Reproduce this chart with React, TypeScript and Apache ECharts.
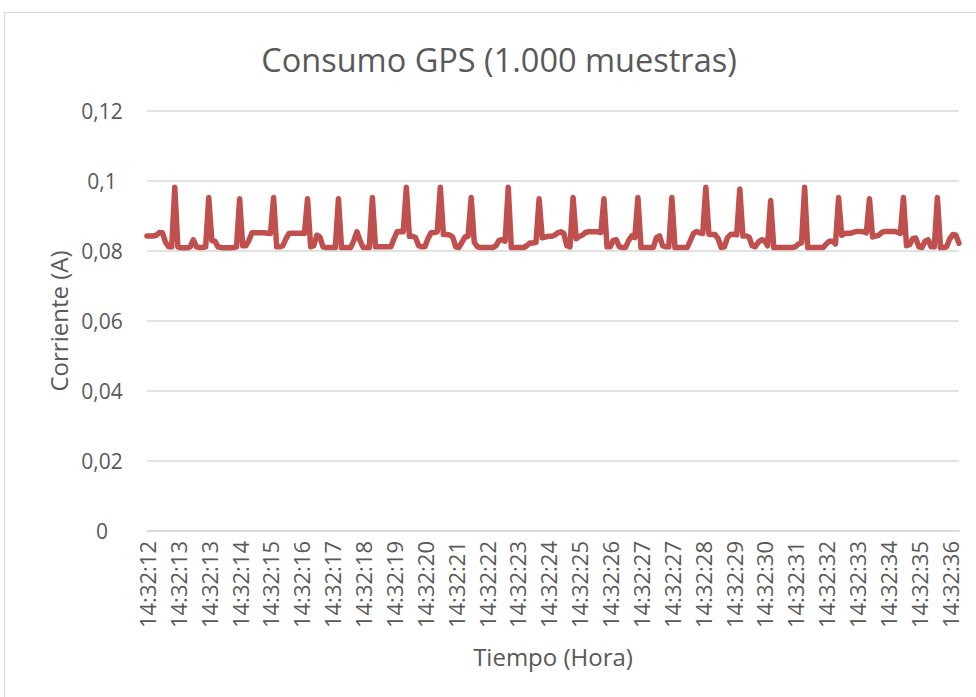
import React, { useEffect, useRef } from "react";
import * as echarts from "echarts";

const chartTitle = "Consumo GPS (1.000 muestras)";
const yAxisTitle = "Corriente (A)";
const xAxisTitle = "Tiempo (Hora)";

// tick labels shown every 10 samples on the category axis
const tickLabels = [
  "14:32:12", "14:32:13", "14:32:13", "14:32:14", "14:32:15", "14:32:16",
  "14:32:17", "14:32:18", "14:32:19", "14:32:20", "14:32:21", "14:32:22",
  "14:32:23", "14:32:24", "14:32:25", "14:32:26", "14:32:27", "14:32:27",
  "14:32:28", "14:32:29", "14:32:30", "14:32:31", "14:32:32", "14:32:33",
  "14:32:34", "14:32:35", "14:32:36",
];
const samplesPerTick = 10;

const yTicks = [0, 0.02, 0.04, 0.06, 0.08, 0.1, 0.12];

// current (A) (reduced resolution)
const corriente = [
  0.0843, 0.0843, 0.0843, 0.0845, 0.0853, 0.0852, 0.0825, 0.0812, 0.0812, 0.0982,
  0.0812, 0.0809, 0.0809, 0.0809, 0.0812, 0.0832, 0.0812, 0.0810, 0.0810, 0.0812,
  0.0953, 0.0830, 0.0828, 0.0812, 0.0810, 0.0809, 0.0809, 0.0809, 0.0810, 0.0812,
  0.0949, 0.0815, 0.0815, 0.0830, 0.0852, 0.0852, 0.0852, 0.0852, 0.0852, 0.0851,
  0.0850, 0.0953, 0.0812, 0.0812, 0.0815, 0.0835, 0.0850, 0.0851, 0.0851, 0.0851,
  0.0851, 0.0850, 0.0949, 0.0812, 0.0815, 0.0845, 0.0840, 0.0812, 0.0810, 0.0810,
  0.0810, 0.0810, 0.0949, 0.0810, 0.0810, 0.0810, 0.0810, 0.0830, 0.0855, 0.0830,
  0.0810, 0.0810, 0.0810, 0.0953, 0.0812, 0.0812, 0.0812, 0.0812, 0.0812, 0.0812,
  0.0835, 0.0855, 0.0856, 0.0855, 0.0982, 0.0842, 0.0842, 0.0838, 0.0815, 0.0812,
  0.0812, 0.0835, 0.0852, 0.0853, 0.0855, 0.0982, 0.0847, 0.0847, 0.0846, 0.0840,
  0.0812, 0.0810, 0.0825, 0.0840, 0.0842, 0.0953, 0.0825, 0.0812, 0.0810, 0.0810,
  0.0810, 0.0810, 0.0810, 0.0815, 0.0830, 0.0832, 0.0828, 0.0982, 0.0810, 0.0810,
  0.0810, 0.0810, 0.0810, 0.0815, 0.0823, 0.0823, 0.0825, 0.0949, 0.0838, 0.0840,
  0.0842, 0.0842, 0.0845, 0.0852, 0.0855, 0.0850, 0.0815, 0.0812, 0.0953, 0.0835,
  0.0842, 0.0845, 0.0853, 0.0855, 0.0855, 0.0855, 0.0855, 0.0853, 0.0949, 0.0812,
  0.0812, 0.0830, 0.0832, 0.0812, 0.0810, 0.0810, 0.0830, 0.0843, 0.0838, 0.0953,
  0.0810, 0.0810, 0.0810, 0.0810, 0.0810, 0.0838, 0.0843, 0.0815, 0.0812, 0.0812,
  0.0953, 0.0810, 0.0810, 0.0810, 0.0810, 0.0810, 0.0830, 0.0850, 0.0856, 0.0852,
  0.0850, 0.0982, 0.0848, 0.0847, 0.0847, 0.0835, 0.0810, 0.0812, 0.0838, 0.0847,
  0.0848, 0.0846, 0.0977, 0.0843, 0.0843, 0.0840, 0.0815, 0.0812, 0.0825, 0.0832,
  0.0830, 0.0815, 0.0944, 0.0810, 0.0810, 0.0810, 0.0810, 0.0810, 0.0810, 0.0810,
  0.0812, 0.0820, 0.0823, 0.0982, 0.0810, 0.0810, 0.0810, 0.0810, 0.0810, 0.0810,
  0.0820, 0.0828, 0.0828, 0.0820, 0.0953, 0.0845, 0.0850, 0.0851, 0.0851, 0.0854,
  0.0856, 0.0856, 0.0855, 0.0852, 0.0949, 0.0840, 0.0843, 0.0845, 0.0853, 0.0856,
  0.0856, 0.0856, 0.0856, 0.0854, 0.0850, 0.0953, 0.0815, 0.0818, 0.0835, 0.0837,
  0.0812, 0.0810, 0.0828, 0.0832, 0.0812, 0.0812, 0.0953, 0.0810, 0.0810, 0.0812,
  0.0835, 0.0847, 0.0845, 0.0822,
];

const categories = corriente.map(
  (_, i) => tickLabels[Math.min(tickLabels.length - 1, Math.floor(i / samplesPerTick))]
);

const FONT = "'Open Sans', sans-serif";
const TEXT = "#595959";

export default function App() {
  const ref = useRef<HTMLDivElement>(null);
  useEffect(() => {
    if (!ref.current) return;
    const chart = echarts.init(ref.current, undefined, { renderer: "svg" });
    chart.setOption({
      animation: false,
      backgroundColor: "#ffffff",
      textStyle: { fontFamily: FONT },
      graphic: [
        {
          type: "rect",
          shape: { x: 4.5, y: 12.5, width: 1200, height: 1200 },
          style: { fill: "none", stroke: "#d9d9d9", lineWidth: 1 },
          silent: true,
        },
        {
          type: "text",
          x: 499,
          y: 59,
          style: {
            text: chartTitle,
            fontSize: 32.5,
            fontFamily: FONT,
            fill: TEXT,
            align: "center",
            verticalAlign: "middle",
          },
        },
      ],
      grid: { left: 147, right: 17, top: 111, bottom: 166, containLabel: false },
      xAxis: {
        type: "category",
        data: categories,
        boundaryGap: false,
        name: xAxisTitle,
        nameLocation: "middle",
        nameGap: 113,
        nameTextStyle: { fontSize: 24, color: TEXT, fontFamily: FONT },
        axisLine: { show: true, lineStyle: { color: "#d9d9d9", width: 1.5 } },
        axisTick: { show: false },
        axisLabel: {
          interval: samplesPerTick - 1,
          rotate: 90,
          margin: 10,
          fontSize: 22,
          color: TEXT,
          fontFamily: FONT,
          padding: [9, 0, 0, 0],
        },
        splitLine: { show: false },
      },
      yAxis: {
        type: "value",
        min: yTicks[0],
        max: yTicks[yTicks.length - 1],
        interval: yTicks[1] - yTicks[0],
        name: yAxisTitle,
        nameLocation: "middle",
        nameGap: 76,
        nameTextStyle: { fontSize: 24, color: TEXT, fontFamily: FONT },
        axisLine: { show: false },
        axisTick: { show: false },
        axisLabel: {
          margin: 45,
          align: "center",
          fontSize: 21,
          color: TEXT,
          fontFamily: FONT,
          formatter: (v: number) =>
            v === 0 ? "0" : String(parseFloat(v.toFixed(2))).replace(".", ","),
        },
        splitLine: { lineStyle: { color: "#d9d9d9", width: 1.5 } },
      },
      series: [
        {
          type: "line",
          data: corriente,
          showSymbol: false,
          symbol: "none",
          lineStyle: { color: "#C0504D", width: 5.5, join: "round", cap: "round" },
          itemStyle: { color: "#C0504D" },
        },
      ],
    });
    return () => chart.dispose();
  }, []);
  return (
    <div
      ref={ref}
      style={{ position: "absolute", left: 0, top: 0, width: 976, height: 697 }}
    />
  );
}
